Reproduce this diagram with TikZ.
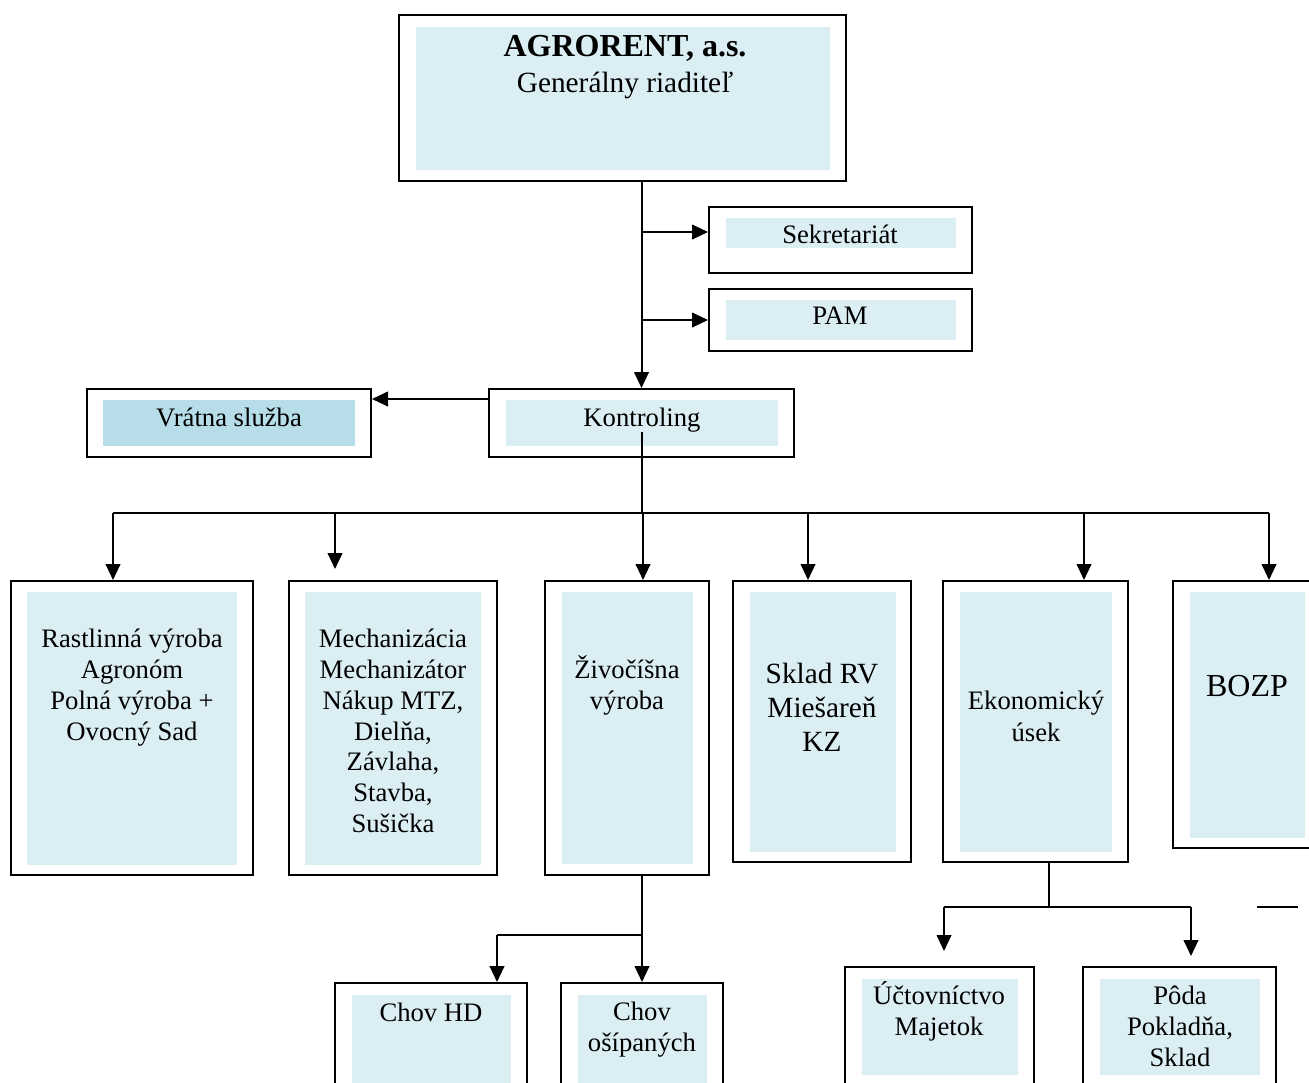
\documentclass[tikz,border=0pt]{standalone}
\usepackage{fontspec}
\setmainfont{Liberation Serif}
\usetikzlibrary{arrows.meta,fit,calc}
\definecolor{cfill}{HTML}{DAEEF3}
\definecolor{cvrat}{HTML}{B6DDE8}
\tikzset{
  obox/.style={draw=black,line width=1.5pt,inner sep=0pt,fill=white},
  ibox/.style={fill=cfill,inner sep=0pt,draw=none},
  vbox/.style={fill=cvrat,inner sep=0pt,draw=none},
  txt/.style={align=center,inner sep=0pt,font=\fontsize{20}{23.25}\selectfont},
  arr/.style={line width=1.5pt,-{Triangle[length=12pt,width=11pt]}},
  ln/.style={line width=1.5pt},
  thinln/.style={line width=0.9pt}
}
\begin{document}
\begin{tikzpicture}[x=0.75pt,y=-0.75pt]
\useasboundingbox (0,0) rectangle (1309,1082);
\clip (0,0) rectangle (1309,1082);
% top box
\node[obox,fit={(399,15) (846,181)}] (top) {};
\node[ibox,fit={(416,27) (830,170)}] (topi) {};
\node[txt,font=\fontsize{22}{27}\selectfont] (topt) at (625,67) {{\fontsize{24}{27}\selectfont\bfseries AGRORENT, a.s.}\\Generálny riaditeľ};
% Sekretariat
\node[obox,fit={(709,207) (972,273)}] (sek) {};
\node[ibox,fit={(726,218) (956,248)}] (seki) {};
\node[txt] (sekt) at (840,234) {Sekretariát};
% PAM
\node[obox,fit={(709,289) (972,351)}] (pam) {};
\node[ibox,fit={(726,300) (956,340)}] (pami) {};
\node[txt] (pamt) at (840,316) {PAM};
% Kontroling
\node[obox,fit={(489,389) (794,457)}] (kont) {};
\node[ibox,fit={(506,400) (778,446)}] (konti) {};
\node[txt] (kontt) at (642,420) {Kontroling};
% Vratna
\node[obox,fit={(87,389) (371,457)}] (vrat) {};
\node[vbox,fit={(103,400) (355,446)}] (vrati) {};
\node[txt] (vratt) at (229,417) {Vrátna služba};
% row
\node[obox,fit={(11,581) (253,875)}] (rast) {};
\node[ibox,fit={(27,592) (237,865)}] (rasti) {};
\node[txt] (rastt) at (132,688) {Rastlinná výroba\\Agronóm\\Polná výroba +\\Ovocný Sad};
\node[obox,fit={(289,581) (497,875)}] (mech) {};
\node[ibox,fit={(305,592) (481,865)}] (mechi) {};
\node[txt,font=\fontsize{20}{23.1}\selectfont] (mecht) at (393,731) {Mechanizácia\\Mechanizátor\\Nákup MTZ,\\Dielňa,\\Závlaha,\\Stavba,\\Sušička};
\node[obox,fit={(545,581) (709,875)}] (ziv) {};
\node[ibox,fit={(562,592) (693,864)}] (zivi) {};
\node[txt] (zivt) at (627,685) {Živočíšna\\výroba};
\node[obox,fit={(733,581) (911,862)}] (skl) {};
\node[ibox,fit={(750,592) (896,852)}] (skli) {};
\node[txt,font=\fontsize{22}{25.5}\selectfont] (sklt) at (822,707) {Sklad RV\\Miešareň\\KZ};
\node[obox,fit={(943,581) (1128,862)}] (eko) {};
\node[ibox,fit={(960,592) (1112,852)}] (ekoi) {};
\node[txt,font=\fontsize{20}{24}\selectfont] (ekot) at (1036,716) {Ekonomický\\úsek};
\node[obox,fit={(1173,581) (1330,848)}] (bozp) {};
\node[ibox,fit={(1190,592) (1305,838)}] (bozpi) {};
\node[txt,font=\fontsize{24}{28}\selectfont] (bozpt) at (1247,686) {BOZP};
% bottom row
\node[obox,fit={(335,983) (527,1100)}] (chhd) {};
\node[ibox,fit={(352,995) (511,1100)}] (chhdi) {};
\node[txt] (chhdt) at (431,1012) {Chov HD};
\node[obox,fit={(561,983) (723,1100)}] (chos) {};
\node[ibox,fit={(578,995) (707,1100)}] (chosi) {};
\node[txt] (chost) at (642,1030) {Chov\\ošípaných};
\node[obox,fit={(845,967) (1034,1100)}] (uct) {};
\node[ibox,fit={(862,979) (1018,1075)}] (ucti) {};
\node[txt] (uctt) at (939,1011) {Účtovníctvo\\Majetok};
\node[obox,fit={(1083,967) (1276,1100)}] (poda) {};
\node[ibox,fit={(1100,979) (1260,1075)}] (podai) {};
\node[txt] (podat) at (1180,1026) {Pôda\\Pokladňa,\\Sklad};
% connectors top
\draw[arr] (kont.north |- top.south) -- (kont.north);
\coordinate (s1) at (643,232);
\draw[arr] (s1) -- (s1 -| sek.west);
\draw[arr] (kont.north |- pam.west) -- (pam.west);
\coordinate (v1) at (489,399);
\draw[arr] (v1) -- (v1 -| vrat.east);
% bus
\coordinate (k0) at (642,432);
\coordinate (bus) at (642,513);
\draw[thinln] (k0) -- (bus);
\coordinate (d1) at (113,513);
\coordinate (d2) at (335,513);
\coordinate (d3) at (643,513);
\coordinate (d4) at (808,513);
\coordinate (d5) at (1084,513);
\coordinate (d6) at (1269,513);
\draw[line width=1.2pt] (d1) -- (d6);
\draw[line width=1.6pt] (469,513) -- (d3);
\draw[arr] (d1) -- (d1 |- rast.north);
\draw[arr] (d2) -- ($(d2 |- mech.north)+(0,-11)$);
\draw[arr] (d3) -- (d3 |- ziv.north);
\draw[arr] (d4) -- (d4 |- skl.north);
\draw[arr] (d5) -- (d5 |- eko.north);
\draw[arr] (d6) -- (d6 |- bozp.north);
% zivocisna branch
\coordinate (z1) at (643,935);
\coordinate (z2) at (497,935);
\draw[arr] (chos.north |- ziv.south) -- (chos.north);
\draw[thinln] (z1) -- (z2);
\draw[arr] (z2) -- (z2 |- chhd.north);
% ekonomicky branch
\coordinate (e1) at (1049,907);
\coordinate (e2) at (944,907);
\coordinate (e3) at (1191,907);
\draw[thinln] (e1 |- eko.south) -- (e1);
\draw[ln] (e2) -- (e3);
\draw[arr] (e2) -- ($(e2 |- uct.north)+(0,-15)$);
\draw[arr] (e3) -- ($(e3 |- poda.north)+(0,-10)$);
\coordinate (m1) at (1257,907);
\coordinate (m2) at (1298,907);
\draw[ln] (m1) -- (m2);
\end{tikzpicture}
\end{document}
